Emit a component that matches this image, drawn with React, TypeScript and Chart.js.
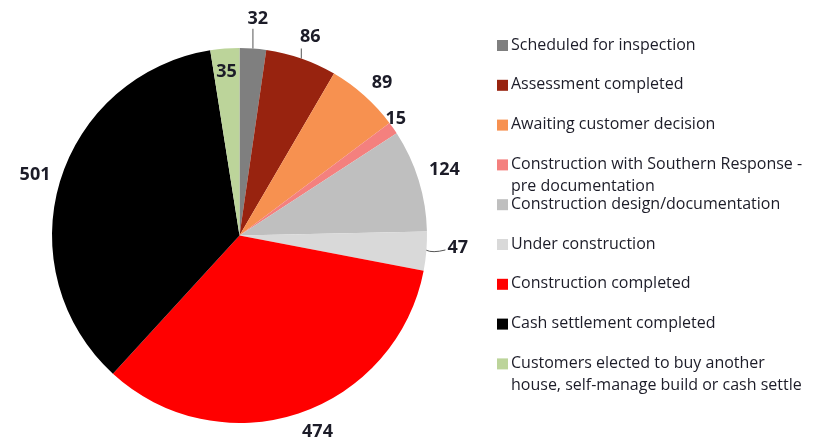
import React, { useEffect, useRef } from "react";
import { Chart, registerables } from "chart.js";

Chart.register(...registerables);

const categories = [
  "Scheduled for inspection",
  "Assessment completed",
  "Awaiting customer decision",
  "Construction with Southern Response - pre documentation",
  "Construction design/documentation",
  "Under construction",
  "Construction completed",
  "Cash settlement completed",
  "Customers elected to buy another house, self-manage build or cash settle",
];

const legendLines = [
  ["Scheduled for inspection"],
  ["Assessment completed"],
  ["Awaiting customer decision"],
  ["Construction with Southern Response -", "pre documentation"],
  ["Construction design/documentation"],
  ["Under construction"],
  ["Construction completed"],
  ["Cash settlement completed"],
  ["Customers elected to buy another", "house, self-manage build or cash settle"],
];

const values = [32, 86, 89, 15, 124, 47, 474, 501, 35];

const colors = [
  "#7f7f7f",
  "#98230f",
  "#f79150",
  "#f4807e",
  "#bfbfbf",
  "#d9d9d9",
  "#ff0000",
  "#000000",
  "#bcd49a",
];

// label placement: radial offset from rim (px) and angular nudge (deg)
const labelRadial = [31, 24, 22, 8, 28, 31, 23, 26, -22];
const labelNudge = [0.7, 0.3, 1.2, -2, -0.9, -1.8, -3.4, 0, 0];

const TEXT = "#1c1c28";
const FONT = "'Open Sans', Lato, sans-serif";

const labelPlugin = {
  id: "customLabels",
  afterDraw(chart: any) {
    const ctx = chart.ctx as CanvasRenderingContext2D;
    const meta = chart.getDatasetMeta(0);
    ctx.save();
    ctx.font = `bold 18px ${FONT}`;
    ctx.fillStyle = TEXT;
    ctx.textAlign = "center";
    ctx.textBaseline = "middle";
    meta.data.forEach((arc: any, i: number) => {
      const { x, y, startAngle, endAngle, outerRadius } = arc.getProps(
        ["x", "y", "startAngle", "endAngle", "outerRadius"],
        true
      );
      const mid = (startAngle + endAngle) / 2;
      const a = mid + (labelNudge[i] * Math.PI) / 180;
      const r = outerRadius + labelRadial[i];
      const lx = x + Math.cos(a) * r;
      const ly = y + Math.sin(a) * r;
      const ex = x + Math.cos(mid) * outerRadius;
      const ey = y + Math.sin(mid) * outerRadius;
      const txt = String(values[i]);
      const w = ctx.measureText(txt).width;
      ctx.strokeStyle = "#555";
      ctx.lineWidth = 1;
      if (i === 0 || i === 1) {
        ctx.beginPath();
        ctx.moveTo(ex, ey);
        ctx.lineTo(ex, i === 0 ? ly + 11 : ey - 10);
        ctx.stroke();
      } else if (i === 5) {
        ctx.beginPath();
        ctx.moveTo(ex, ey - 1);
        ctx.quadraticCurveTo(ex + 6, ey + 2, lx - w / 2 - 2, ly + 3);
        ctx.stroke();
      }
      ctx.fillText(txt, lx, ly + 1);
    });

    // legend
    const lx0 = 497;
    const tx0 = 511;
    const top = 45;
    const step = 39.8;
    ctx.font = `16px ${FONT}`;
    ctx.textAlign = "left";
    ctx.textBaseline = "middle";
    legendLines.forEach((lines, i) => {
      const cy = top + i * step;
      ctx.fillStyle = colors[i];
      ctx.fillRect(lx0, cy - 5, 11, 11);
      ctx.fillStyle = TEXT;
      lines.forEach((ln, j) => {
        ctx.fillText(ln, tx0, cy + j * 22);
      });
    });
    ctx.restore();
  },
};

export default function App() {
  const ref = useRef<HTMLCanvasElement>(null);
  useEffect(() => {
    document.body.style.margin = "0";
    const chart = new Chart(ref.current!, {
      type: "pie",
      data: {
        labels: categories,
        datasets: [
          {
            data: values,
            backgroundColor: colors,
            borderWidth: 0,
          },
        ],
      },
      options: {
        responsive: false,
        animation: false,
        layout: { padding: { left: 52, right: 394, top: 48, bottom: 20 } },
        plugins: {
          legend: { display: false },
          tooltip: { enabled: false },
        },
      },
      plugins: [labelPlugin],
    });
    return () => chart.destroy();
  }, []);
  return (
    <div style={{ width: 821, height: 443, background: "#fff" }}>
      <canvas ref={ref} width={821} height={443} />
    </div>
  );
}
